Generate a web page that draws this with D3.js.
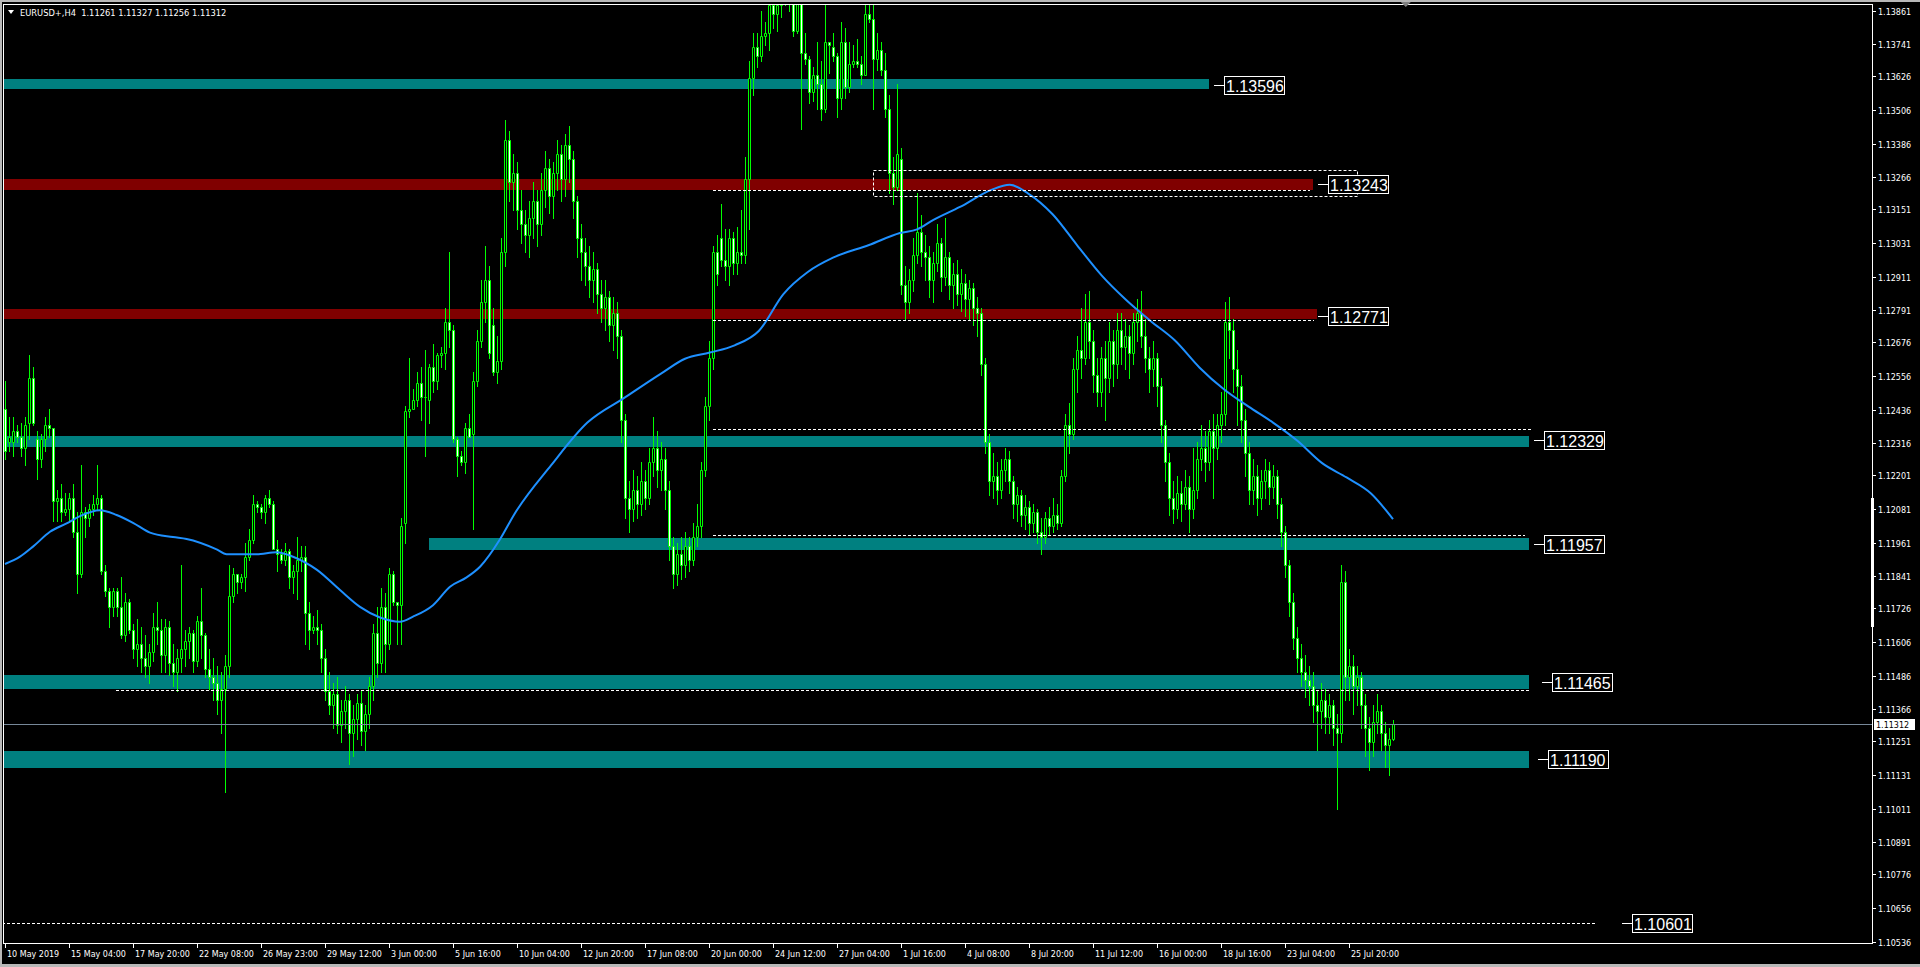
<!DOCTYPE html>
<html><head><meta charset="utf-8">
<script src="https://cdn.jsdelivr.net/npm/d3@7"></script>
<style>
html,body{margin:0;padding:0;background:#000;overflow:hidden}
svg{display:block}
</style></head><body>
<svg id="c" width="1920" height="967"></svg>
<script>
// ---------------- DATA ----------------
const symbolTitle = "EURUSD+,H4";
const lastOHLC = [1.11261, 1.11327, 1.11256, 1.11312];
const bidPrice = 1.11312;

const opens = [
1.1244,1.1232,1.1232,1.1236,1.1234,1.1230,1.1239,1.1255,1.1233,1.1226,
1.1233,1.1238,1.1237,1.1211,1.1212,1.1207,1.1208,1.1212,1.1200,1.1185,
1.1207,1.1205,1.1208,1.1210,1.1212,1.1186,1.1179,1.1173,1.1179,1.1173,
1.1163,1.1175,1.1165,1.1158,1.1160,1.1155,1.1152,1.1157,1.1166,1.1165,
1.1156,1.1166,1.1153,1.1150,1.1155,1.1158,1.1161,1.1164,1.1154,1.1168,
1.1163,1.1151,1.1148,1.1146,1.1140,1.1144,1.1152,1.1177,1.1185,1.1182,
1.1184,1.1191,1.1197,1.1210,1.1209,1.1207,1.1212,1.1210,1.1194,1.1192,
1.1190,1.1193,1.1184,1.1186,1.1190,1.1191,1.1171,1.1165,1.1166,1.1165,
1.1155,1.1143,1.1138,1.1142,1.1131,1.1136,1.1140,1.1128,1.1133,1.1139,
1.1129,1.1135,1.1145,1.1164,1.1153,1.1173,1.1160,1.1185,1.1175,1.1174,
1.1203,1.1243,1.1244,1.1247,1.1253,1.1248,1.1247,1.1259,1.1254,1.1263,
1.1264,1.1275,1.1272,1.1233,1.1227,1.1225,1.1237,1.1235,1.1254,1.1268,
1.1282,1.1290,1.1274,1.1257,1.1261,1.1300,1.1340,1.1325,1.1328,1.1315,
1.1310,1.1306,1.1312,1.1318,1.1310,1.1322,1.1330,1.1320,1.1328,1.1335,
1.1326,1.1338,1.1333,1.1318,1.1305,1.1300,1.1295,1.1290,1.1294,1.1285,
1.1280,1.1284,1.1274,1.1278,1.1270,1.1240,1.1212,1.1208,1.1215,1.1210,
1.1218,1.1212,1.1225,1.1230,1.1222,1.1226,1.1215,1.1195,1.1185,1.1192,
1.1188,1.1195,1.1190,1.1198,1.1202,1.1222,1.1245,1.1262,1.1300,1.1305,
1.1297,1.1295,1.1305,1.1296,1.1300,1.1299,1.1326,1.1362,1.1373,1.1370,
1.1377,1.1378,1.1388,1.1385,1.1388,1.1395,1.1398,1.1392,1.1379,1.1390,
1.1371,1.1369,1.1357,1.1363,1.1360,1.1351,1.1375,1.1373,1.1370,1.1355,
1.1375,1.1359,1.1367,1.1368,1.1367,1.1363,1.1385,1.1383,1.1369,1.1372,
1.1365,1.1351,1.1328,1.1323,1.1333,1.1288,1.1282,1.1290,1.1299,1.1307,
1.1300,1.1298,1.1290,1.1296,1.1303,1.1291,1.1298,1.1288,1.1292,1.1285,
1.1289,1.1283,1.1287,1.1280,1.1278,1.1260,1.1232,1.1218,1.1220,1.1215,
1.1222,1.1226,1.1218,1.1210,1.1213,1.1206,1.1209,1.1203,1.1207,1.1200,
1.1198,1.1205,1.1202,1.1206,1.1203,1.1220,1.1238,1.1235,1.1258,1.1265,
1.1262,1.1275,1.1268,1.1256,1.1250,1.1262,1.1255,1.1268,1.1260,1.1272,
1.1266,1.1270,1.1264,1.1275,1.1278,1.1270,1.1262,1.1258,1.1262,1.1252,
1.1238,1.1225,1.1212,1.1208,1.1214,1.1210,1.1216,1.1208,1.1215,1.1226,
1.1230,1.1225,1.1236,1.1230,1.1238,1.1242,1.1275,1.1272,1.1258,1.1252,
1.1240,1.1228,1.1215,1.1220,1.1212,1.1218,1.1222,1.1216,1.1220,1.1210,
1.1200,1.1188,1.1175,1.1162,1.1155,1.1150,1.1147,1.1145,1.1138,1.1136,
1.1140,1.1134,1.1138,1.1130,1.1128,1.1182,1.1148,1.1152,1.1145,1.1148,
1.1138,1.1130,1.1125,1.1132,1.1136,1.1128,1.1124,1.11261];

const highs = [
1.1254,1.1241,1.1241,1.1238,1.1239,1.1241,1.1263,1.1259,1.1236,1.1235,
1.1241,1.1244,1.1237,1.1215,1.1217,1.1214,1.1214,1.1217,1.1207,1.1224,
1.1209,1.1210,1.1213,1.1224,1.1213,1.1188,1.1180,1.1180,1.1180,1.1184,
1.1178,1.1176,1.1167,1.1169,1.1166,1.1163,1.1160,1.1171,1.1175,1.1169,
1.1169,1.1168,1.1160,1.1158,1.1188,1.1165,1.1166,1.1165,1.1170,1.1180,
1.1164,1.1158,1.1155,1.1152,1.1150,1.1156,1.1188,1.1187,1.1185,1.1185,
1.1196,1.1201,1.1213,1.1211,1.1210,1.1213,1.1215,1.1211,1.1197,1.1194,
1.1196,1.1194,1.1188,1.1198,1.1195,1.1195,1.1175,1.1170,1.1172,1.1167,
1.1158,1.1150,1.1146,1.1148,1.1140,1.1145,1.1142,1.1138,1.1142,1.1143,
1.1138,1.1148,1.1167,1.1173,1.1180,1.1178,1.1187,1.1186,1.1175,1.1205,
1.1245,1.1262,1.1251,1.1257,1.1259,1.1265,1.1260,1.1267,1.1264,1.1266,
1.1280,1.1300,1.1274,1.1234,1.1229,1.1239,1.1242,1.1257,1.1272,1.1290,
1.1302,1.1295,1.1280,1.1270,1.1305,1.1347,1.1343,1.1335,1.1332,1.1322,
1.1315,1.1318,1.1325,1.1322,1.1328,1.1336,1.1333,1.1332,1.1340,1.1338,
1.1342,1.1345,1.1336,1.1320,1.1310,1.1305,1.1302,1.1300,1.1296,1.1290,
1.1290,1.1286,1.1284,1.1282,1.1272,1.1242,1.1218,1.1222,1.1220,1.1225,
1.1222,1.1230,1.1241,1.1236,1.1232,1.1230,1.1218,1.1198,1.1196,1.1198,
1.1200,1.1198,1.1203,1.1210,1.1225,1.1248,1.1268,1.1302,1.1306,1.1317,
1.1308,1.1308,1.1307,1.1309,1.1315,1.1334,1.1368,1.1378,1.1378,1.1386,
1.1382,1.1390,1.1390,1.1390,1.1402,1.1405,1.1404,1.1395,1.1392,1.1392,
1.1378,1.1370,1.1366,1.1375,1.1368,1.1388,1.1375,1.1378,1.1371,1.1382,
1.1380,1.1375,1.1374,1.1376,1.1370,1.1390,1.1390,1.1390,1.1378,1.1375,
1.1371,1.1356,1.1334,1.1360,1.1337,1.1295,1.1294,1.1305,1.1321,1.1313,
1.1306,1.1302,1.1300,1.1310,1.1305,1.1312,1.1300,1.1296,1.1297,1.1294,
1.1292,1.1290,1.1289,1.1284,1.1280,1.1262,1.1235,1.1228,1.1225,1.1226,
1.1230,1.1229,1.1220,1.1216,1.1215,1.1213,1.1211,1.1210,1.1208,1.1205,
1.1207,1.1209,1.1212,1.1210,1.1222,1.1242,1.1246,1.1262,1.1270,1.1280,
1.1285,1.1286,1.1272,1.1262,1.1266,1.1268,1.1275,1.1272,1.1278,1.1278,
1.1276,1.1274,1.1278,1.1283,1.1286,1.1276,1.1266,1.1268,1.1264,1.1255,
1.1240,1.1228,1.1218,1.1220,1.1218,1.1222,1.1220,1.1230,1.1232,1.1238,
1.1236,1.1240,1.1242,1.1242,1.1250,1.1282,1.1284,1.1276,1.1265,1.1256,
1.1244,1.1232,1.1226,1.1224,1.1222,1.1226,1.1225,1.1224,1.1222,1.1212,
1.1202,1.1190,1.1178,1.1166,1.1160,1.1156,1.1152,1.1150,1.1143,1.1146,
1.1144,1.1142,1.1140,1.1135,1.1188,1.1186,1.1158,1.1156,1.1152,1.1150,
1.1142,1.1134,1.1138,1.1142,1.1138,1.1132,1.1130,1.11327];

const lows = [
1.1226,1.1229,1.1227,1.1232,1.1227,1.1224,1.1233,1.1238,1.1219,1.1223,
1.1229,1.1234,1.1204,1.1204,1.1204,1.1206,1.1204,1.1198,1.1178,1.1184,
1.1198,1.1202,1.1206,1.1208,1.1185,1.1177,1.1166,1.1170,1.1170,1.1162,
1.1161,1.1164,1.1155,1.1152,1.1150,1.1148,1.1146,1.1154,1.1160,1.1150,
1.1150,1.1149,1.1145,1.1143,1.1150,1.1152,1.1155,1.1150,1.1152,1.1155,
1.1148,1.1144,1.1140,1.1135,1.1128,1.1107,1.1148,1.1175,1.1178,1.1180,
1.1179,1.1190,1.1196,1.1207,1.1205,1.1203,1.1209,1.1194,1.1186,1.1189,
1.1188,1.1180,1.1178,1.1176,1.1186,1.1160,1.1158,1.1164,1.1160,1.1150,
1.1140,1.1135,1.1130,1.1128,1.1125,1.1130,1.1117,1.1120,1.1126,1.1124,
1.1122,1.1130,1.1140,1.1148,1.1150,1.1150,1.1158,1.1174,1.1160,1.1160,
1.1196,1.1241,1.1244,1.1245,1.1240,1.1227,1.1239,1.1250,1.1251,1.1259,
1.1258,1.1266,1.1232,1.1220,1.1224,1.1221,1.1234,1.1201,1.1252,1.1266,
1.1275,1.1262,1.1256,1.1253,1.1258,1.1295,1.1318,1.1315,1.1308,1.1303,
1.1300,1.1298,1.1305,1.1302,1.1306,1.1316,1.1314,1.1312,1.1322,1.1318,
1.1320,1.1325,1.1312,1.1298,1.1290,1.1288,1.1284,1.1282,1.1278,1.1275,
1.1272,1.1268,1.1265,1.1262,1.1232,1.1205,1.1200,1.1204,1.1205,1.1206,
1.1208,1.1210,1.1220,1.1216,1.1215,1.1208,1.1190,1.1180,1.1181,1.1183,
1.1184,1.1186,1.1188,1.1195,1.1198,1.1220,1.1240,1.1258,1.1288,1.1295,
1.1290,1.1288,1.1292,1.1292,1.1296,1.1296,1.1308,1.1356,1.1366,1.1368,
1.1374,1.1372,1.1380,1.1379,1.1384,1.1388,1.1386,1.1377,1.1378,1.1344,
1.1367,1.1353,1.1354,1.1351,1.1347,1.1350,1.1364,1.1368,1.1348,1.1351,
1.1355,1.1357,1.1366,1.1366,1.1360,1.1363,1.1382,1.1351,1.1365,1.1363,
1.1348,1.1321,1.1317,1.1322,1.1285,1.1276,1.1278,1.1286,1.1296,1.1295,
1.1290,1.1284,1.1282,1.1293,1.1286,1.1288,1.1283,1.1280,1.1281,1.1279,
1.1277,1.1276,1.1274,1.1270,1.1256,1.1228,1.1213,1.1212,1.1210,1.1212,
1.1218,1.1214,1.1205,1.1204,1.1202,1.1201,1.1199,1.1200,1.1196,1.1192,
1.1196,1.1199,1.1200,1.1201,1.1202,1.1218,1.1228,1.1233,1.1250,1.1255,
1.1260,1.1262,1.1250,1.1245,1.1245,1.1240,1.1250,1.1252,1.1255,1.1260,
1.1258,1.1255,1.1260,1.1268,1.1266,1.1257,1.1250,1.1252,1.1245,1.1232,
1.1218,1.1206,1.1203,1.1205,1.1204,1.1208,1.1200,1.1205,1.1212,1.1222,
1.1218,1.1222,1.1212,1.1226,1.1232,1.1238,1.1262,1.1250,1.1238,1.1232,
1.1220,1.1210,1.1210,1.1206,1.1208,1.1212,1.1210,1.1212,1.1205,1.1195,
1.1184,1.1170,1.1158,1.1150,1.1145,1.1141,1.1138,1.1132,1.1122,1.1130,
1.1128,1.1128,1.1124,1.1101,1.1125,1.1140,1.1140,1.1135,1.1138,1.1130,
1.1120,1.1115,1.1120,1.1128,1.1122,1.1116,1.1113,1.11256];

const closes = [
1.1229,1.1234,1.1236,1.1234,1.1230,1.1238,1.1255,1.1239,1.1226,1.1233,
1.1238,1.1237,1.1211,1.1212,1.1207,1.1208,1.1212,1.1200,1.1185,1.1207,
1.1205,1.1208,1.1210,1.1212,1.1186,1.1179,1.1173,1.1179,1.1173,1.1163,
1.1175,1.1165,1.1158,1.1160,1.1155,1.1152,1.1157,1.1166,1.1165,1.1156,
1.1166,1.1153,1.1150,1.1155,1.1158,1.1161,1.1164,1.1154,1.1168,1.1163,
1.1151,1.1148,1.1146,1.1140,1.1144,1.1152,1.1177,1.1185,1.1182,1.1184,
1.1191,1.1197,1.1210,1.1209,1.1207,1.1212,1.1210,1.1194,1.1192,1.1190,
1.1193,1.1184,1.1186,1.1190,1.1191,1.1171,1.1165,1.1166,1.1165,1.1155,
1.1143,1.1138,1.1142,1.1131,1.1136,1.1140,1.1128,1.1133,1.1139,1.1129,
1.1135,1.1145,1.1164,1.1153,1.1173,1.1160,1.1185,1.1175,1.1174,1.1202,
1.1243,1.1244,1.1247,1.1253,1.1248,1.1248,1.1259,1.1254,1.1263,1.1264,
1.1275,1.1272,1.1233,1.1227,1.1225,1.1237,1.1234,1.1254,1.1268,1.1282,
1.1290,1.1264,1.1257,1.1261,1.1300,1.1340,1.1325,1.1328,1.1315,1.1310,
1.1306,1.1312,1.1318,1.1310,1.1322,1.1330,1.1320,1.1328,1.1335,1.1326,
1.1338,1.1333,1.1318,1.1305,1.1300,1.1295,1.1290,1.1294,1.1285,1.1280,
1.1284,1.1274,1.1278,1.1270,1.1240,1.1212,1.1208,1.1215,1.1210,1.1218,
1.1212,1.1225,1.1230,1.1222,1.1226,1.1215,1.1195,1.1185,1.1192,1.1188,
1.1195,1.1190,1.1198,1.1202,1.1222,1.1245,1.1262,1.1300,1.1292,1.1297,
1.1295,1.1305,1.1296,1.1300,1.1299,1.1326,1.1362,1.1373,1.1370,1.1377,
1.1378,1.1388,1.1385,1.1388,1.1395,1.1398,1.1392,1.1379,1.1390,1.1371,
1.1369,1.1357,1.1363,1.1360,1.1351,1.1375,1.1374,1.1370,1.1355,1.1375,
1.1359,1.1367,1.1368,1.1367,1.1363,1.1385,1.1383,1.1369,1.1372,1.1365,
1.1351,1.1328,1.1323,1.1335,1.1288,1.1282,1.1290,1.1299,1.1307,1.1300,
1.1298,1.1290,1.1296,1.1303,1.1291,1.1298,1.1288,1.1292,1.1285,1.1289,
1.1283,1.1287,1.1280,1.1278,1.1260,1.1232,1.1218,1.1220,1.1215,1.1222,
1.1226,1.1218,1.1210,1.1213,1.1206,1.1209,1.1203,1.1207,1.1200,1.1198,
1.1205,1.1202,1.1206,1.1203,1.1220,1.1238,1.1235,1.1258,1.1265,1.1262,
1.1275,1.1268,1.1256,1.1250,1.1262,1.1255,1.1268,1.1260,1.1272,1.1266,
1.1270,1.1264,1.1275,1.1278,1.1270,1.1262,1.1258,1.1262,1.1252,1.1238,
1.1225,1.1212,1.1208,1.1214,1.1210,1.1216,1.1208,1.1215,1.1226,1.1230,
1.1225,1.1236,1.1230,1.1238,1.1242,1.1275,1.1272,1.1258,1.1252,1.1240,
1.1228,1.1215,1.1220,1.1212,1.1218,1.1222,1.1216,1.1220,1.1210,1.1200,
1.1188,1.1175,1.1162,1.1155,1.1150,1.1147,1.1145,1.1138,1.1136,1.1140,
1.1134,1.1138,1.1130,1.1128,1.1182,1.1148,1.1152,1.1145,1.1148,1.1138,
1.1130,1.1125,1.1132,1.1136,1.1128,1.1124,1.1126,1.11312];

// moving average (at these bar positions)
const maBars = [0,3.75,7,11.25,15.4,18.75,23.75,27.9,32,36.25,42,45.4,52.9,55.4,62.9,67.9,72,78,83.75,88.75,
93.75,98.75,102,107,111.25,115.4,118.75,123.75,127.3,136.5,145.6,154.8,164,170,176.2,182.4,188.5,194.6,200.7,207,
216,223.75,228,232,238.75,246.6,251.2,255.8,261.9,268,274.2,280.3,286.4,292.5,298.6,304.8,310.9,317,323.1,329.2,
335.4,341.5,347];
const maValues = [1.11885,1.11911,1.11947,1.12000,1.12030,1.12056,1.12077,1.12060,1.12032,1.11997,1.11981,1.11974,1.11937,1.11920,1.11920,1.11927,1.11911,1.11864,1.11792,1.11732,
1.11694,1.11679,1.11697,1.11738,1.11804,1.11837,1.11875,1.11973,1.12062,1.12237,1.12390,1.12478,1.12565,1.12618,1.12640,1.12666,1.12718,1.12849,1.12928,1.12979,
1.13024,1.13067,1.13080,1.13113,1.13160,1.13221,1.13239,1.13208,1.13134,1.13024,1.12915,1.12828,1.12753,1.12683,1.12587,1.12508,1.12447,1.12390,1.12325,1.12246,
1.12194,1.12137,1.12045];

// time axis
const dateLabels = ["10 May 2019","15 May 04:00","17 May 20:00","22 May 08:00","26 May 23:00","29 May 12:00","3 Jun 00:00","5 Jun 16:00",
"10 Jun 04:00","12 Jun 20:00","17 Jun 08:00","20 Jun 00:00","24 Jun 12:00","27 Jun 04:00","1 Jul 16:00","4 Jul 08:00",
"8 Jul 20:00","11 Jul 12:00","16 Jul 00:00","18 Jul 16:00","23 Jul 04:00","25 Jul 20:00"];
const dateLabelBars = [0,16,32,48,64,80,96,112,128,144,160,176,192,208,224,240,256,272,288,304,320,336];

// price axis
const priceTicks = [1.13861,1.13741,1.13626,1.13506,1.13386,1.13266,1.13151,1.13031,1.12911,1.12791,1.12676,1.12556,1.12436,1.12316,1.12201,
1.12081,1.11961,1.11841,1.11726,1.11606,1.11486,1.11366,1.11251,1.11131,1.11011,1.10891,1.10776,1.10656,1.10536];

// support / resistance zones
const zoneLevels   = [1.13596,1.13243,1.12771,1.12329,1.11957,1.11465,1.11190];
const zoneTop      = [1.13617,1.13260,1.12796,1.12342,1.11978,1.11489,1.11218];
const zoneBottom   = [1.13582,1.13221,1.12760,1.12303,1.11935,1.11439,1.11157];
const zoneFromBar  = [-2,-2,-2,-2,106,-2,-2];
const zoneToBar    = [301,327,328,381,381,381,381];
const zoneKind     = ["support","resistance","resistance","support","support","support","support"];
const zoneLabelBar = [302.25,328.25,328.25,382.25,382.25,384.25,383.25];

// single dashed level with label
const levelPrice = 1.10601, levelFromBar = -2, levelToBar = 398, levelLabelBar = 404.25;

// dashed guide lines
const guidePrice = [1.13220,1.12755,1.12367,1.11987,1.11434];
const guideFrom  = [177,177,177,177,27.75];
const guideTo    = [326.25,327.25,382,380,381];
// dashed rectangle
const boxFromBar = 217, boxToBar = 338, boxTop = 1.13292, boxBottom = 1.13199;

// ---------------- DRAW ----------------
const svg = d3.select("#c");
const x = d3.scaleLinear().domain([0, 347]).range([5, 1393]);
const y = d3.scaleLinear().domain([1.10536, 1.13861]).range([941.7, 10.7]);
const px = v => Math.round(x(v)) + 0.5;
const py = v => Math.round(y(v)) + 0.5;
const SMALL = "'DejaVu Sans', 'Liberation Sans', sans-serif";

svg.append("rect").attr("width",1920).attr("height",967).attr("fill","#000");
// window edges
svg.append("rect").attr("x",0).attr("y",0).attr("width",1920).attr("height",2).attr("fill","#b8b8b8");
svg.append("rect").attr("x",0).attr("y",0).attr("width",2).attr("height",967).attr("fill","#b8b8b8");
svg.append("rect").attr("x",0).attr("y",964).attr("width",1920).attr("height",3).attr("fill","#b8b8b8");

const defs = svg.append("defs");
defs.append("clipPath").attr("id","plotClip").append("rect")
  .attr("x",4).attr("y",5).attr("width",1868).attr("height",938);

const plot = svg.append("g").attr("clip-path","url(#plotClip)");

// zones (background objects)
const zoneColor = {support:"#008080", resistance:"#800000"};
plot.append("g").selectAll("rect").data(zoneLevels).join("rect")
  .attr("x",(d,i)=>x(zoneFromBar[i]))
  .attr("width",(d,i)=>x(zoneToBar[i])-x(zoneFromBar[i]))
  .attr("y",(d,i)=>Math.round(y(zoneTop[i])))
  .attr("height",(d,i)=>Math.round(y(zoneBottom[i]))-Math.round(y(zoneTop[i])))
  .attr("fill",(d,i)=>zoneColor[zoneKind[i]]);

// candles
const bars = closes.map((c,i)=>({i,o:opens[i],h:highs[i],l:lows[i],c}));
const cg = plot.append("g");
cg.selectAll("line").data(bars).join("line")
  .attr("x1",d=>px(d.i)).attr("x2",d=>px(d.i))
  .attr("y1",d=>Math.round(y(d.h))).attr("y2",d=>Math.round(y(d.l))+1)
  .attr("stroke","#00ff00").attr("stroke-width",1);
cg.selectAll("path").data(bars).join("path")
  .attr("d",d=>{
    const cx = Math.round(x(d.i));
    const t = py(Math.max(d.o,d.c)), b = py(Math.min(d.o,d.c));
    return `M${cx-0.5},${t}H${cx+1.5}V${b}H${cx-0.5}Z`;
  })
  .attr("fill",d=>d.c<d.o ? "#ffffff" : "#000000")
  .attr("stroke","#00ff00").attr("stroke-width",1);

// moving average
const maPts = maBars.map((b,i)=>[b,maValues[i]]);
plot.append("path").datum(maPts)
  .attr("d", d3.line().x(d=>x(d[0])).y(d=>y(d[1])).curve(d3.curveMonotoneX))
  .attr("fill","none").attr("stroke","#1e90ff").attr("stroke-width",2);

// dashed guides
const dash = "3,2";
plot.append("g").selectAll("line").data(guidePrice).join("line")
  .attr("x1",(d,i)=>x(guideFrom[i])).attr("x2",(d,i)=>x(guideTo[i]))
  .attr("y1",d=>py(d)).attr("y2",d=>py(d))
  .attr("stroke","#fff").attr("stroke-dasharray",dash);
plot.append("rect")
  .attr("x",px(boxFromBar)).attr("y",py(boxTop))
  .attr("width",px(boxToBar)-px(boxFromBar)).attr("height",py(boxBottom)-py(boxTop))
  .attr("fill","none").attr("stroke","#fff").attr("stroke-dasharray",dash);
plot.append("line")
  .attr("x1",x(levelFromBar)).attr("x2",x(levelToBar))
  .attr("y1",py(levelPrice)).attr("y2",py(levelPrice))
  .attr("stroke","#fff").attr("stroke-dasharray",dash);

// bid line
plot.append("line").attr("x1",0).attr("x2",1872)
  .attr("y1",py(bidPrice)).attr("y2",py(bidPrice))
  .attr("stroke","#778899").attr("stroke-width",1);

// price labels (zones + level)
const labels = zoneLevels.map((v,i)=>({v,bar:zoneLabelBar[i]})).concat([{v:levelPrice,bar:levelLabelBar}]);
const lg = svg.append("g");
labels.forEach(d=>{
  const x0 = Math.round(x(d.bar)), yc = Math.round(y(d.v));
  lg.append("line").attr("x1",x0).attr("x2",x0+10).attr("y1",yc+0.5).attr("y2",yc+0.5)
    .attr("stroke","#fff");
  lg.append("rect").attr("x",x0+10.5).attr("y",yc-8.5).attr("width",60).attr("height",18)
    .attr("fill","#000").attr("stroke","#fff");
  lg.append("text").attr("x",x0+12).attr("y",yc+6.5)
    .attr("font-family","'Liberation Sans', Arial, sans-serif").attr("font-size",16)
    .attr("fill","#fff").text(d.v.toFixed(5));
});

// frame
const fr = svg.append("g").attr("stroke","#fff").attr("stroke-width",1);
fr.append("line").attr("x1",3.5).attr("x2",3.5).attr("y1",4).attr("y2",944);
fr.append("line").attr("x1",3).attr("x2",1873).attr("y1",4.5).attr("y2",4.5);
fr.append("line").attr("x1",1872.5).attr("x2",1872.5).attr("y1",4).attr("y2",944);
fr.append("line").attr("x1",3).attr("x2",1873).attr("y1",943.5).attr("y2",943.5);
// axis highlight segment
svg.append("rect").attr("x",1871).attr("y",498).attr("width",3).attr("height",129).attr("fill","#fff");

// price axis
const pa = svg.append("g");
pa.selectAll("line").data(priceTicks).join("line")
  .attr("x1",1873).attr("x2",1876).attr("y1",d=>py(d)).attr("y2",d=>py(d)).attr("stroke","#fff");
pa.selectAll("text").data(priceTicks).join("text")
  .attr("x",1878).attr("y",d=>Math.round(y(d))+3.5)
  .attr("font-family",SMALL).attr("font-size",8).attr("fill","#fff")
  .text(d=>d.toFixed(5));
// current price tag
svg.append("rect").attr("x",1874).attr("y",Math.round(y(bidPrice))-5).attr("width",41).attr("height",11).attr("fill","#fff");
svg.append("text").attr("x",1876).attr("y",Math.round(y(bidPrice))+4)
  .attr("font-family",SMALL).attr("font-size",8).attr("fill","#000").text(bidPrice.toFixed(5));

// time axis
const ta = svg.append("g");
ta.selectAll("line").data(dateLabelBars).join("line")
  .attr("x1",d=>px(d)).attr("x2",d=>px(d)).attr("y1",944).attr("y2",948).attr("stroke","#fff");
ta.selectAll("text").data(dateLabels).join("text")
  .attr("x",(d,i)=>px(dateLabelBars[i])+1.5).attr("y",957)
  .attr("font-family",SMALL).attr("font-size",8).attr("fill","#fff")
  .text(d=>d);

// header
svg.append("path").attr("d","M8,10H14L11,14Z").attr("fill","#fff");
svg.append("text").attr("x",20).attr("y",16)
  .attr("font-family",SMALL).attr("font-size",8.3).attr("fill","#fff")
  .attr("xml:space","preserve").style("white-space","pre")
  .text(symbolTitle + "  " + lastOHLC.map(v=>v.toFixed(5)).join(" "));

// chart shift marker
const sx = x(350.2);
svg.append("path").attr("d",`M${sx-5},2H${sx+5}L${sx},7Z`).attr("fill","#808080");
</script>
</body></html>
